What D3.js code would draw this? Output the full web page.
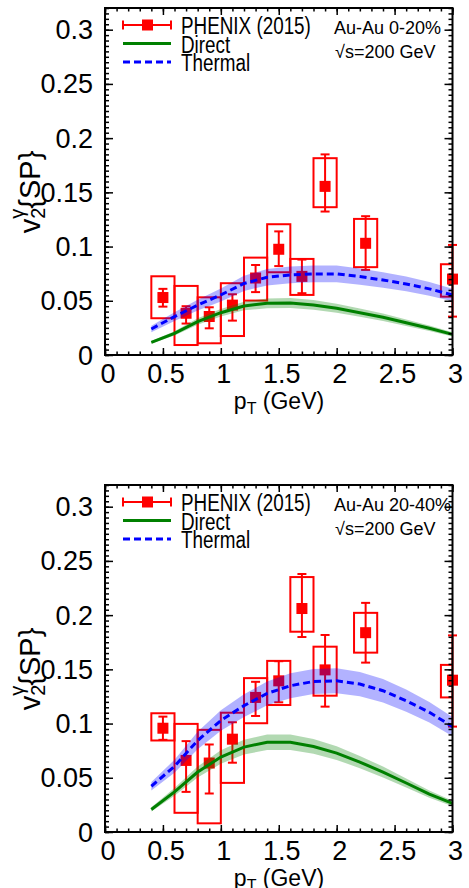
<!DOCTYPE html>
<html><head><meta charset="utf-8">
<script src="https://cdn.jsdelivr.net/npm/d3@7"></script>
<style>body{margin:0;background:#fff}svg{display:block}</style>
</head><body>
<svg id="c" width="469" height="888"></svg>
<script>
// ---- data ----
const pT = [0.5, 0.7, 0.9, 1.1, 1.3, 1.5, 1.7, 1.9, 2.25, 3.0];
const v2Central = [0.053, 0.0385, 0.0355, 0.046, 0.071, 0.0975, 0.0725, 0.1555, 0.103, 0.070];
const statHiCentral = [0.061, 0.045, 0.044, 0.056, 0.083, 0.114, 0.088, 0.185, 0.128, 0.1015];
const statLoCentral = [0.0446, 0.029, 0.0246, 0.0317, 0.058, 0.082, 0.057, 0.1323, 0.0785, 0.0354];
const sysHiCentral = [0.0726, 0.0637, 0.0532, 0.0662, 0.0898, 0.1206, 0.0886, 0.1815, 0.1255, 0.0837];
const sysLoCentral = [0.0339, 0.0092, 0.0108, 0.0175, 0.0502, 0.0763, 0.0554, 0.1363, 0.081, 0.0538];

const v2Mid = [0.0957, 0.066, 0.0636, 0.0856, 0.1241, 0.1394, 0.2061, 0.1495, 0.1838, 0.140];
const statHiMid = [0.1064, 0.0838, 0.0807, 0.1012, 0.1385, 0.1575, 0.2379, 0.1817, 0.2113, 0.1813];
const statLoMid = [0.085, 0.037, 0.0355, 0.0639, 0.107, 0.1196, 0.1798, 0.1156, 0.1562, 0.0972];
const sysHiMid = [0.1095, 0.0997, 0.0942, 0.110, 0.1419, 0.1578, 0.2351, 0.1709, 0.2021, 0.1541];
const sysLoMid = [0.0844, 0.0177, 0.008, 0.0453, 0.1003, 0.1171, 0.1847, 0.1257, 0.1654, 0.1241];

const pTTheory = [0.4, 0.6, 0.8, 1.0, 1.2, 1.4, 1.6, 1.8, 2.0, 2.2, 2.4, 2.6, 2.8, 3.0];
const thermalCentral = [0.024, 0.0354, 0.046, 0.0554, 0.066, 0.0717, 0.0738, 0.0748, 0.0748, 0.0723, 0.0692, 0.0655, 0.061, 0.0554];
const thermalErrCentral = [0.003, 0.004, 0.005, 0.006, 0.007, 0.0075, 0.0077, 0.0077, 0.0077, 0.0075, 0.0072, 0.0068, 0.0063, 0.0058];
const directCentral = [0.0117, 0.02, 0.0308, 0.039, 0.0452, 0.0477, 0.048, 0.0462, 0.0431, 0.039, 0.0348, 0.0298, 0.0246, 0.019];
const directErrCentral = [0.0012, 0.002, 0.003, 0.0035, 0.004, 0.0045, 0.0046, 0.0045, 0.0042, 0.0038, 0.0034, 0.003, 0.0025, 0.002];

const thermalMid = [0.0422, 0.0606, 0.0844, 0.1028, 0.1165, 0.1278, 0.1349, 0.1388, 0.1394, 0.1364, 0.1303, 0.1211, 0.1104, 0.0972];
const thermalErrMid = [0.004, 0.006, 0.008, 0.0095, 0.0105, 0.011, 0.0115, 0.0115, 0.0115, 0.0112, 0.0108, 0.0102, 0.0095, 0.0088];
const directMid = [0.0208, 0.037, 0.0553, 0.0691, 0.0783, 0.0828, 0.0828, 0.0789, 0.0728, 0.0645, 0.0553, 0.0452, 0.0349, 0.0263];
const directErrMid = [0.002, 0.0035, 0.005, 0.0062, 0.0068, 0.0072, 0.0072, 0.0068, 0.0063, 0.0057, 0.005, 0.0042, 0.0033, 0.0026];

const xTicks = [0, 0.5, 1, 1.5, 2, 2.5, 3];
const xTickLabels = ["0", "0.5", "1", "1.5", "2", "2.5", "3"];
const yTicks = [0, 0.05, 0.1, 0.15, 0.2, 0.25, 0.3];
const yTickLabels = ["0", "0.05", "0.1", "0.15", "0.2", "0.25", "0.3"];
const legendLabels = ["PHENIX (2015)", "Direct", "Thermal"];
const centralityLabels = ["Au-Au 0-20%", "Au-Au 20-40%"];
const energyLabel = "\u221As=200 GeV";

const panels = [
  {top: 8, cent: centralityLabels[0], v2: v2Central, sHi: statHiCentral, sLo: statLoCentral, yHi: sysHiCentral, yLo: sysLoCentral,
   th: thermalCentral, thE: thermalErrCentral, di: directCentral, diE: directErrCentral},
  {top: 485, cent: centralityLabels[1], v2: v2Mid, sHi: statHiMid, sLo: statLoMid, yHi: sysHiMid, yLo: sysLoMid,
   th: thermalMid, thE: thermalErrMid, di: directMid, diE: directErrMid}
];

const svg = d3.select("#c");
const RED = "#ff0000", GREEN = "#008000", BLUE = "#0000ff";
const H = 347;
const font = "'Liberation Sans', Arial, sans-serif";

panels.forEach((P, pi) => {
  const x = d3.scaleLinear().domain([0, 3]).range([105, 452.5]);
  const y = d3.scaleLinear().domain([0, 0.32]).range([P.top + H, P.top]);
  const g = svg.append("g");
  const clipId = "clip" + pi;
  svg.append("clipPath").attr("id", clipId).append("rect")
    .attr("x", x(0)).attr("y", y(0.32)).attr("width", x(3) - x(0)).attr("height", y(0) - y(0.32));

  // systematic boxes
  g.append("g").attr("clip-path", `url(#${clipId})`).selectAll("rect").data(pT).join("rect")
    .attr("x", d => x(d - 0.1)).attr("width", d => x(d + 0.1) - x(d - 0.1))
    .attr("y", (d, i) => y(P.yHi[i])).attr("height", (d, i) => y(P.yLo[i]) - y(P.yHi[i]))
    .attr("fill", "none").attr("stroke", RED).attr("stroke-width", 2);
  // stat error bars
  const eb = g.append("g").attr("stroke", RED).attr("stroke-width", 2);
  pT.forEach((d, i) => {
    eb.append("line").attr("x1", x(d)).attr("x2", x(d)).attr("y1", y(P.sHi[i])).attr("y2", y(P.sLo[i]));
    [P.sHi[i], P.sLo[i]].forEach(v => eb.append("line").attr("x1", x(d) - 4.5).attr("x2", x(d) + 4.5).attr("y1", y(v)).attr("y2", y(v)));
  });
  g.append("g").selectAll("rect").data(pT).join("rect")
    .attr("x", d => x(d) - 5.5).attr("y", (d, i) => y(P.v2[i]) - 5.5).attr("width", 11).attr("height", 11).attr("fill", RED);

  // bands and curves
  const band = (vals, errs) => d3.area().x(d => x(d)).y0((d, i) => y(vals[i] - errs[i])).y1((d, i) => y(vals[i] + errs[i]))(pTTheory);
  g.append("path").attr("d", band(P.di, P.diE)).attr("fill", GREEN).attr("fill-opacity", 0.3);
  g.append("path").attr("d", band(P.th, P.thE)).attr("fill", BLUE).attr("fill-opacity", 0.3);
  const line = vals => d3.line().x(d => x(d)).y((d, i) => y(vals[i]))(pTTheory);
  g.append("path").attr("d", line(P.di)).attr("fill", "none").attr("stroke", GREEN).attr("stroke-width", 3);
  g.append("path").attr("d", line(P.th)).attr("fill", "none").attr("stroke", BLUE).attr("stroke-width", 3).attr("stroke-dasharray", "7,4");

  // axes
  const xMinor = d3.range(0, 3.0001, 0.1);
  const yMinor = d3.range(0, 0.3201, 0.005);
  const ax = (gen, sc, ticks, size, tr) => {
    const a = g.append("g").attr("transform", tr).call(gen(sc).tickValues(ticks).tickSize(size).tickFormat(""));
    a.select(".domain").remove();
    a.selectAll("line").attr("stroke", "#000").attr("stroke-width", 1.5);
    return a;
  };
  ax(d3.axisBottom, x, xMinor, -3.5, `translate(0,${y(0)})`);
  ax(d3.axisBottom, x, xTicks, -7, `translate(0,${y(0)})`);
  ax(d3.axisTop, x, xMinor, -3.5, `translate(0,${y(0.32)})`);
  ax(d3.axisTop, x, xTicks, -7, `translate(0,${y(0.32)})`);
  ax(d3.axisLeft, y, yMinor, -4, `translate(${x(0)},0)`);
  ax(d3.axisLeft, y, yTicks, -8, `translate(${x(0)},0)`);
  ax(d3.axisRight, y, yMinor, -4, `translate(${x(3)},0)`);
  ax(d3.axisRight, y, yTicks, -8, `translate(${x(3)},0)`);
  g.append("rect").attr("x", x(0)).attr("y", y(0.32)).attr("width", x(3) - x(0)).attr("height", y(0) - y(0.32))
    .attr("fill", "none").attr("stroke", "#000").attr("stroke-width", 2);

  // tick labels
  g.append("g").selectAll("text").data(xTicks).join("text")
    .attr("x", d => x(d) + 3).attr("y", y(0) + 28).attr("text-anchor", "middle")
    .attr("font-family", font).attr("font-size", 27).text((d, i) => xTickLabels[i]);
  g.append("g").selectAll("text").data(yTicks).join("text")
    .attr("x", 93).attr("y", d => y(d) + 9.5).attr("text-anchor", "end")
    .attr("font-family", font).attr("font-size", 27).text((d, i) => yTickLabels[i]);

  // x title
  const xt = g.append("text").attr("x", 279).attr("y", y(0) + 54).attr("text-anchor", "middle")
    .attr("font-family", font).attr("font-size", 23);
  xt.append("tspan").text("p");
  xt.append("tspan").attr("font-size", 16).attr("dy", 5).text("T");
  xt.append("tspan").attr("dy", -5).text(" (GeV)");
  // y title
  const yt = g.append("text").attr("transform", `translate(40,${P.top + 184}) rotate(-90)`).attr("text-anchor", "middle")
    .attr("font-family", font).attr("font-size", 29);
  yt.append("tspan").text("v");
  yt.append("tspan").attr("font-size", 20).attr("dy", 5).text("2");
  yt.append("tspan").attr("font-size", 20).attr("dx", -11).attr("dy", -21).text("\u03B3");
  yt.append("tspan").attr("dy", 16).text("{SP}");

  // legend
  const t = P.top;
  const lg = g.append("g");
  lg.append("line").attr("x1", 123).attr("x2", 171).attr("y1", t + 17).attr("y2", t + 17).attr("stroke", RED).attr("stroke-width", 2);
  [123, 171].forEach(xx => lg.append("line").attr("x1", xx).attr("x2", xx).attr("y1", t + 12.5).attr("y2", t + 21.5).attr("stroke", RED).attr("stroke-width", 2));
  lg.append("rect").attr("x", 142).attr("y", t + 11.5).attr("width", 11).attr("height", 11).attr("fill", RED);
  lg.append("line").attr("x1", 123).attr("x2", 171).attr("y1", t + 35.5).attr("y2", t + 35.5).attr("stroke", GREEN).attr("stroke-width", 3);
  lg.append("line").attr("x1", 123).attr("x2", 171).attr("y1", t + 54).attr("y2", t + 54).attr("stroke", BLUE).attr("stroke-width", 3).attr("stroke-dasharray", "7,4");
  [26, 44.7, 62.7].forEach((dy, i) => lg.append("text").attr("transform", `translate(181,${t + dy}) scale(0.82,1)`)
    .attr("font-family", font).attr("font-size", 23).text(legendLabels[i]));
  lg.append("text").attr("x", 334).attr("y", t + 26).attr("font-family", font).attr("font-size", 18).text(P.cent);
  lg.append("text").attr("x", 335).attr("y", t + 50).attr("font-family", font).attr("font-size", 18).text(energyLabel);
});
</script>
</body></html>
